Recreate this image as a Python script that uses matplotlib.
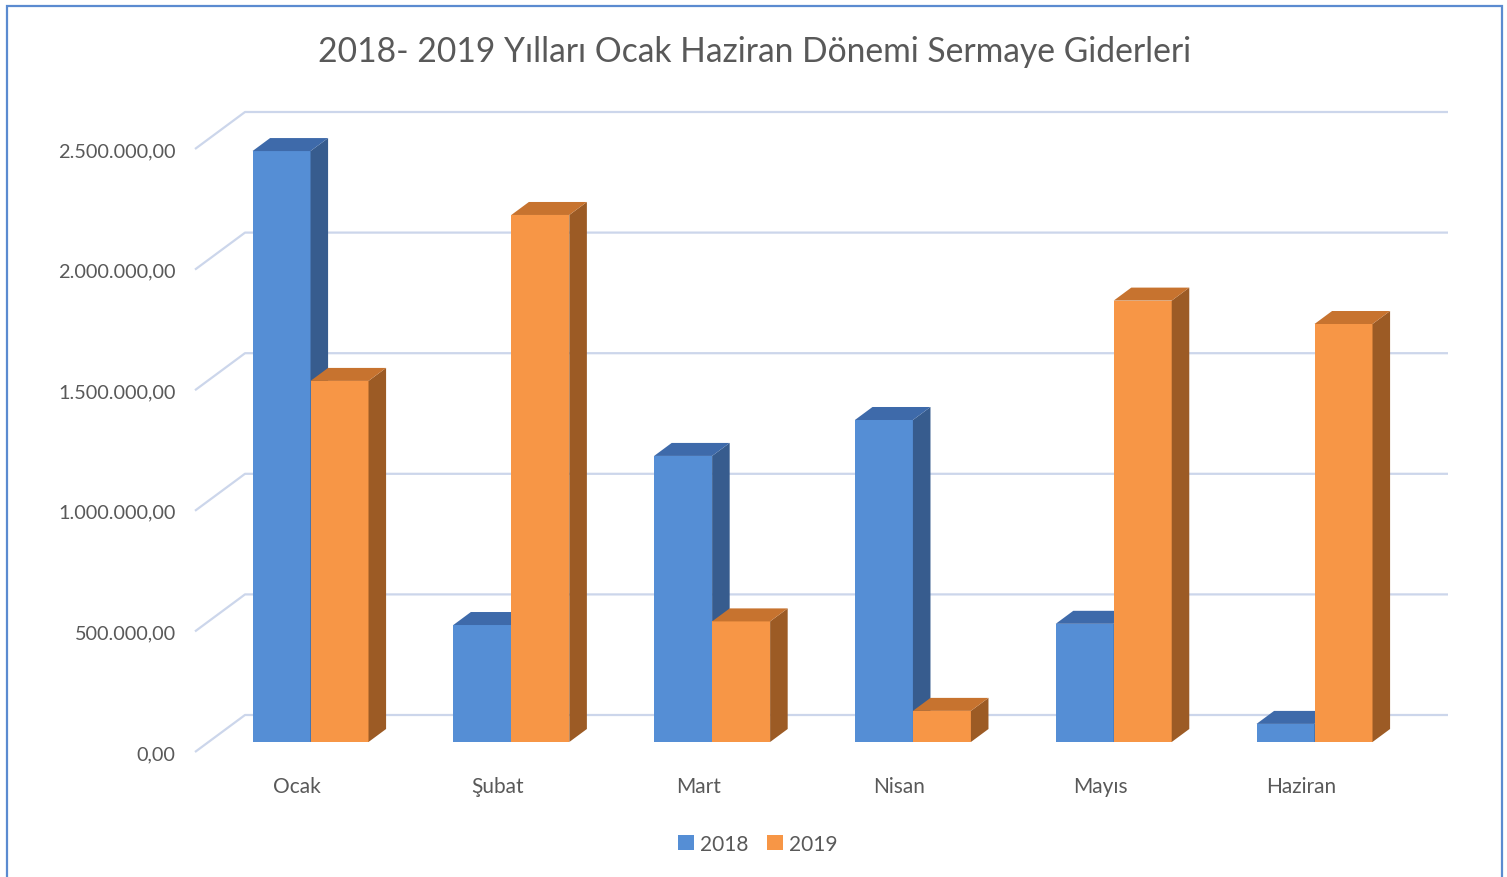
import matplotlib
matplotlib.use("Agg")
import matplotlib.pyplot as plt
from matplotlib.patches import Rectangle, Polygon, Patch

months = ["Ocak", "Şubat", "Mart", "Nisan", "Mayıs", "Haziran"]
values_2018 = [2450000, 485000, 1186000, 1335000, 490000, 75000]
values_2019 = [1497000, 2185000, 500000, 129000, 1830000, 1733000]
series_names = ["2018", "2019"]
y_ticks = [0, 500000, 1000000, 1500000, 2000000, 2500000]

FONT = ["Lato", "DejaVu Sans"]
plt.rcParams["font.family"] = FONT
TXT = "#595959"

W, H = 1507, 878
fig = plt.figure(figsize=(W / 100, H / 100), dpi=100)
fig.patch.set_facecolor("white")

# axes placement (pixels)
ax_l, ax_r, ax_b, ax_t = 195, 1448, 753, 100
ax = fig.add_axes([ax_l / W, 1 - ax_b / H, (ax_r - ax_l) / W, (ax_b - ax_t) / H])
px_per_val = 603 / 2500000.0
cat_px = 200.8
x0_px = 297
ax.set_xlim((ax_l - x0_px) / cat_px, (ax_r - x0_px) / cat_px)
ax.set_ylim(0, (ax_b - ax_t) / px_per_val)

# depth vector (full depth of floor) in data units
DX = 50 / cat_px
DY = 37 / px_per_val
xl = (ax_l - x0_px) / cat_px
xr = (ax_r - x0_px) / cat_px

grid_c = "#CCD6EB"
for v in y_ticks:
    ax.plot([xl, xl + DX, xr], [v, v + DY, v + DY], color=grid_c, lw=1.6,
            zorder=1, clip_on=False, solid_capstyle="butt")

bw = 58 / cat_px
d0 = 10 / 37.0       # front face depth fraction
t = 13 / 37.0        # bar depth fraction
front_c = ["#558ED5", "#F79646"]
side_c = ["#375C8E", "#9C5B25"]
top_c = ["#3E6AAA", "#C7732F"]

for s, vals in enumerate([values_2018, values_2019]):
    for i, v in enumerate(vals):
        x0 = i + d0 * DX + (s - 1) * bw
        b = d0 * DY
        z = 3 + s
        ax.add_patch(Rectangle((x0, b), bw, v, facecolor=front_c[s],
                               edgecolor="none", zorder=z))
        ax.add_patch(Polygon([(x0 + bw, b), (x0 + bw + t * DX, b + t * DY),
                              (x0 + bw + t * DX, b + t * DY + v), (x0 + bw, b + v)],
                             closed=True, facecolor=side_c[s], edgecolor="none", zorder=z))
        ax.add_patch(Polygon([(x0, b + v), (x0 + bw, b + v),
                              (x0 + bw + t * DX, b + v + t * DY), (x0 + t * DX, b + v + t * DY)],
                             closed=True, facecolor=top_c[s], edgecolor="none", zorder=z))

for sp in ax.spines.values():
    sp.set_visible(False)
ax.set_facecolor("none")


def fmt(v):
    s = f"{v:,.2f}"
    return s.replace(",", "X").replace(".", ",").replace("X", ".")


ax.set_yticks(y_ticks)
ax.set_yticklabels([fmt(v) for v in y_ticks])
ax.set_xticks(range(len(months)))
ax.set_xticklabels(months)
ax.tick_params(axis="y", length=0, pad=14, labelsize=14.3, labelcolor=TXT)
ax.tick_params(axis="x", length=0, pad=17, labelsize=15, labelcolor=TXT)

fig.text(754.5 / W, 1 - 52 / H, "2018- 2019 Yılları Ocak Haziran Dönemi Sermaye Giderleri",
         ha="center", va="center", fontsize=24.2, color=TXT)

handles = [Patch(facecolor=front_c[0], edgecolor="none", label=series_names[0]),
           Patch(facecolor=front_c[1], edgecolor="none", label=series_names[1])]
fig.legend(handles=handles, loc="center", bbox_to_anchor=(758 / W, 1 - 845 / H),
           ncol=2, frameon=False, fontsize=15, handlelength=0.75, handleheight=0.75,
           handletextpad=0.3, columnspacing=0.9, labelcolor=TXT)

fig.patches.append(Rectangle((6.5 / W, -0.05), (1502 - 6.5) / W, 1.05 - 6.5 / H,
                             transform=fig.transFigure, fill=False,
                             edgecolor="#5B8BD0", lw=1.6, zorder=10))

fig.savefig("out.png", dpi=100, facecolor="white")
